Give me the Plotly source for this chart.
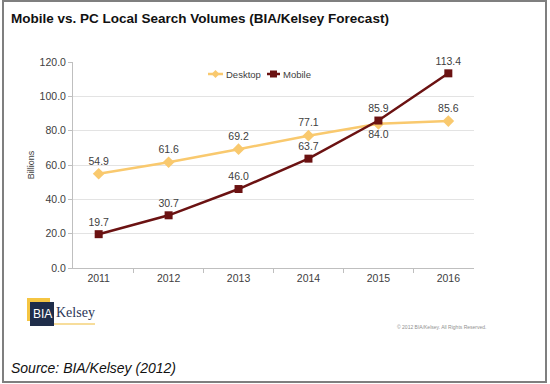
import plotly.graph_objects as go

years = ["2011", "2012", "2013", "2014", "2015", "2016"]
desktop = [54.9, 61.6, 69.2, 77.1, 84.0, 85.6]
mobile = [19.7, 30.7, 46.0, 63.7, 85.9, 113.4]
desktop_pos = ["top center", "top center", "top center", "top center", "bottom center", "top center"]
mobile_pos = ["top center"] * 6
y_ticks = [0, 20, 40, 60, 80, 100, 120]

DESK_C = "#F9C96E"
MOB_C = "#6B1212"

L, R, T, B = 73, 76, 62, 116
PW, PH = 550 - L - R, 384 - T - B


def px(x):
    return (x - L) / PW


def py(y):
    return (384 - B - y) / PH


fig = go.Figure()
fig.add_trace(go.Scatter(
    x=years, y=desktop, name="Desktop", mode="lines+markers+text",
    line=dict(color=DESK_C, width=2.5),
    marker=dict(symbol="diamond", size=9, color=DESK_C),
    text=[f"{v:.1f}" for v in desktop], textposition=desktop_pos,
    textfont=dict(size=10.5, color="#404040", family="Liberation Sans"),
    cliponaxis=False, showlegend=False,
))
fig.add_trace(go.Scatter(
    x=years, y=mobile, name="Mobile", mode="lines+markers+text",
    line=dict(color=MOB_C, width=2.5),
    marker=dict(symbol="square", size=8, color=MOB_C),
    text=[f"{v:.1f}" for v in mobile], textposition=mobile_pos,
    textfont=dict(size=10.5, color="#404040", family="Liberation Sans"),
    cliponaxis=False, showlegend=False,
))

fig.update_layout(
    width=550, height=384,
    margin=dict(l=L, r=R, t=T, b=B, autoexpand=False),
    paper_bgcolor="white", plot_bgcolor="white",
    font=dict(family="Liberation Sans", color="#404040"),
    showlegend=False,
    xaxis=dict(type="category", showgrid=False, showline=True, linecolor="#BFBFBF",
               ticks="outside", tickson="boundaries", ticklen=4, tickcolor="#BFBFBF",
               tickfont=dict(size=10.5, color="#404040"), automargin=False),
    yaxis=dict(range=[0, 120], tickvals=y_ticks, ticktext=[f"{v:.1f}" for v in y_ticks],
               showgrid=True, gridcolor="#E3E3E3", showline=True, linecolor="#BFBFBF",
               ticks="outside", ticklen=4, tickcolor="#BFBFBF", zeroline=False,
               tickfont=dict(size=10.5, color="#404040"), automargin=False,
               title=dict(text="Billions", font=dict(size=9, color="#404040"), standoff=3)),
)

# manual legend
def legend_item(x0, x1, y, color, name, symbol):
    fig.add_shape(type="line", xref="paper", yref="paper", x0=px(x0), x1=px(x1), y0=py(y), y1=py(y),
                  line=dict(color=color, width=2.5))
    cx = (x0 + x1) / 2
    if symbol == "diamond":
        path = (f"M {px(cx)} {py(y - 4)} L {px(cx + 4)} {py(y)} L {px(cx)} {py(y + 4)} "
                f"L {px(cx - 4)} {py(y)} Z")
        fig.add_shape(type="path", xref="paper", yref="paper", path=path,
                      fillcolor=color, line=dict(width=0))
    else:
        fig.add_shape(type="rect", xref="paper", yref="paper", x0=px(cx - 3.5), x1=px(cx + 3.5),
                      y0=py(y + 3.5), y1=py(y - 3.5), fillcolor=color, line=dict(width=0))
    fig.add_annotation(xref="paper", yref="paper", x=px(x1 + 1), y=py(y), xanchor="left",
                       yanchor="middle", text=name, showarrow=False,
                       font=dict(size=9.5, color="#404040", family="Liberation Sans"))


legend_item(208, 223, 74, DESK_C, "Desktop", "diamond")
legend_item(267, 280, 74, MOB_C, "Mobile", "square")

# outer frame
fig.add_shape(type="rect", xref="paper", yref="paper", x0=px(3), x1=px(546), y0=py(382), y1=py(1),
              line=dict(color="#7F7F7F", width=2), layer="below")

# title
fig.add_annotation(xref="paper", yref="paper", x=px(9), y=py(18), xanchor="left", yanchor="middle",
                   text="<b>Mobile vs. PC Local Search Volumes (BIA/Kelsey Forecast)</b>",
                   showarrow=False, font=dict(size=13.5, color="#111111", family="Liberation Sans"))

# source
fig.add_annotation(xref="paper", yref="paper", x=px(9), y=py(368), xanchor="left", yanchor="middle",
                   text="<i>Source: BIA/Kelsey (2012)</i>",
                   showarrow=False, font=dict(size=14, color="#111111", family="Liberation Sans"))

# copyright
fig.add_annotation(xref="paper", yref="paper", x=px(441), y=py(327), xanchor="center", yanchor="middle",
                   text="© 2012 BIA/Kelsey. All Rights Reserved.",
                   showarrow=False, font=dict(size=5, color="#909090", family="Liberation Sans"))

# logo
fig.add_shape(type="rect", xref="paper", yref="paper", x0=px(27), x1=px(50), y0=py(321), y1=py(298),
              fillcolor="#F5C542", line=dict(width=0))
fig.add_shape(type="rect", xref="paper", yref="paper", x0=px(30), x1=px(54), y0=py(326), y1=py(302),
              fillcolor="#1F2D4A", line=dict(width=0))
fig.add_annotation(xref="paper", yref="paper", x=px(42), y=py(314), xanchor="center", yanchor="middle",
                   text="BIA", showarrow=False,
                   font=dict(size=12, color="white", family="Liberation Sans"))
fig.add_annotation(xref="paper", yref="paper", x=px(54), y=py(312), xanchor="left", yanchor="middle",
                   text="Kelsey", showarrow=False,
                   font=dict(size=14, color="#2A3557", family="Liberation Serif"))
fig.add_shape(type="line", xref="paper", yref="paper", x0=px(54), x1=px(95), y0=py(324), y1=py(324),
              line=dict(color="#F5D27A", width=1.5))

fig.write_html("out.html", config={"displayModeBar": False},
               post_script="document.body.style.margin='0';")
